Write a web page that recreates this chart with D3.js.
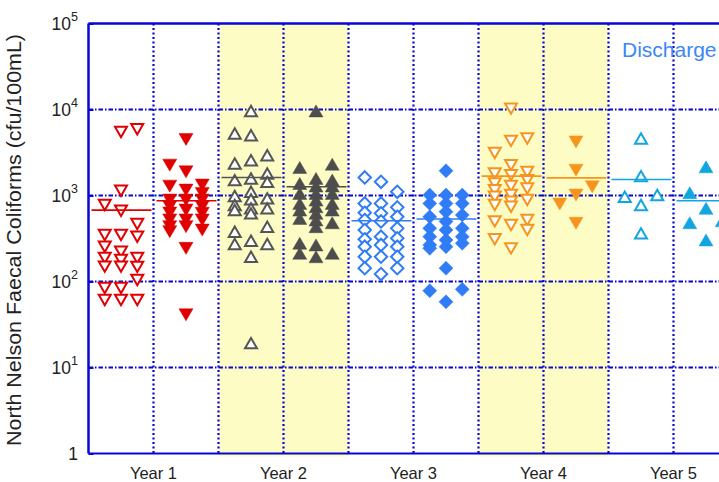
<!DOCTYPE html>
<html>
<head>
<meta charset="utf-8">
<script src="https://cdn.jsdelivr.net/npm/d3@7"></script>
<style>
  body { margin: 0; background: #fff; }
  text { font-family: "Liberation Sans", Arial, sans-serif; }
</style>
</head>
<body>
<script>
// year categories, each split into open (left) and filled (right) sub-columns
const years = ["Year 1", "Year 2", "Year 3", "Year 4", "Year 5"];
const shadedYears = ["Year 2", "Year 4"];
const yTicks = [1, 10, 100, 1000, 10000, 100000];

// [jitter column 0..2, cfu/100mL]
const y1Open = [[1,5480],[2,5890],[1,1135],[0,774],[1,664],[2,466],[0,347],[1,347],[2,332],[0,254],[1,222],[0,188],[1,178],[2,188],[0,149],[1,149],[2,148],[2,104],[0,84],[1,84],[0,61],[1,61],[2,61]];
const y1Filled = [[1,4475],[0,2254],[1,1884],[0,1285],[1,1155],[2,1321],[0,885],[0,740],[0,625],[0,519],[0,434],[0,379],[1,885],[1,677],[1,519],[1,434],[2,1057],[2,885],[2,740],[2,620],[2,519],[2,397],[1,243],[1,41]];
const y2Open = [[1,9620],[0,5250],[1,5020],[2,2942],[0,2356],[1,2574],[0,1510],[1,1578],[2,1803],[2,1442],[0,985],[0,774],[0,677],[1,1104],[1,902],[1,709],[1,619],[2,925],[2,709],[2,434],[0,379],[0,273],[1,298],[2,273],[1,194],[1,19.2]];
const y2Filled = [[1,9620],[0,2118],[2,2312],[0,1381],[0,1057],[0,809],[0,677],[1,1578],[1,1290],[1,1057],[1,885],[1,740],[1,620],[1,519],[1,434],[2,1510],[2,1290],[2,1057],[2,809],[2,677],[0,542],[2,482],[0,278],[0,213],[1,266],[1,194],[2,213]];
const y3Open = [[0,1622],[1,1442],[2,1104],[0,809],[0,630],[0,519],[0,397],[0,310],[0,254],[0,194],[0,143],[1,809],[1,620],[1,500],[1,332],[1,266],[1,194],[1,122],[2,728],[2,566],[2,415],[2,318],[2,254],[2,194],[2,143]];
const y3Filled = [[1,1936],[0,1012],[0,809],[0,566],[0,415],[0,332],[0,266],[0,243],[1,1012],[1,809],[1,648],[1,500],[1,397],[1,304],[1,254],[2,1012],[2,809],[2,593],[2,415],[2,332],[2,278],[1,143],[0,78],[2,81],[1,58]];
const y4Open = [[1,10240],[1,4315],[2,4593],[0,3126],[1,2254],[0,1803],[0,1381],[0,1155],[0,966],[0,774],[1,1727],[1,1290],[1,1012],[1,845],[1,740],[2,1884],[2,1510],[2,1208],[2,885],[0,500],[1,454],[2,519],[2,397],[0,310],[1,243]];
const y4Filled = [[1,4200],[1,1972],[2,1262],[1,1012],[0,794],[1,475]];
const y5Open = [[1,4593],[1,1679],[0,966],[2,1012],[1,774],[1,363]];
const y5Filled = [[1,2153],[0,1076],[1,709],[0,482],[2,510],[1,304]];

// median line of each sub-column
const medians = [676, 869, 1622, 1262, 509, 533, 1679, 1603, 1537, 869];

const groups = [
  {year: "Year 1", kind: "open", shape: "down", color: "#e00000", pts: y1Open},
  {year: "Year 1", kind: "filled", shape: "down", color: "#e00000", pts: y1Filled},
  {year: "Year 2", kind: "open", shape: "up", color: "#555555", pts: y2Open},
  {year: "Year 2", kind: "filled", shape: "up", color: "#4d4d4d", pts: y2Filled},
  {year: "Year 3", kind: "open", shape: "diamond", color: "#2f7cf6", pts: y3Open},
  {year: "Year 3", kind: "filled", shape: "diamond", color: "#2f7cf6", pts: y3Filled},
  {year: "Year 4", kind: "open", shape: "down", color: "#f7941d", pts: y4Open},
  {year: "Year 4", kind: "filled", shape: "down", color: "#f7941d", pts: y4Filled},
  {year: "Year 5", kind: "open", shape: "up", color: "#12a5e0", pts: y5Open},
  {year: "Year 5", kind: "filled", shape: "up", color: "#12a5e0", pts: y5Filled}
];
groups.forEach((g, i) => { g.key = g.year + "-" + g.kind; g.median = medians[i]; });

const width = 719, height = 482;
const margin = {top: 23.5, left: 88.5, bottom: 453.5};
const gridBlue = "#0606d6";

const svg = d3.select("body").append("svg")
  .attr("width", width)
  .attr("height", height);

// one band per sub-column, 65px each
const xScale = d3.scaleBand()
  .domain(groups.map(g => g.key))
  .range([margin.left, margin.left + 65 * groups.length])
  .padding(0);
const bw = xScale.bandwidth();

const yScale = d3.scaleLog()
  .domain([1, 1e5])
  .range([margin.bottom, margin.top]);

// shaded years
shadedYears.forEach(function(yr) {
  svg.append("rect")
    .attr("x", xScale(yr + "-open"))
    .attr("y", margin.top)
    .attr("width", bw * 2)
    .attr("height", margin.bottom - margin.top + 3)
    .attr("fill", "#fdfcc4");
});

// horizontal grid
svg.append("g")
  .selectAll("line")
  .data(yTicks.filter(t => t > 1 && t < 1e5))
  .join("line")
  .attr("x1", margin.left).attr("x2", width)
  .attr("y1", d => yScale(d)).attr("y2", d => yScale(d))
  .attr("stroke", gridBlue)
  .attr("stroke-width", 1.8)
  .attr("stroke-dasharray", "4.5,2,1.5,2");

// vertical grid
svg.append("g")
  .selectAll("line")
  .data(groups.slice(1))
  .join("line")
  .attr("x1", d => xScale(d.key)).attr("x2", d => xScale(d.key))
  .attr("y1", margin.top).attr("y2", margin.bottom)
  .attr("stroke", gridBlue)
  .attr("stroke-width", 2.2)
  .attr("stroke-dasharray", "2,2.5");

// marker shapes
function markerPath(shape, filled) {
  const w = filled ? 7 : 6, h = filled ? 6 : 5.2;
  if (shape === "down") return `M${-w},${-h}L${w},${-h}L0,${h}Z`;
  if (shape === "up") return `M${-w},${h}L${w},${h}L0,${-h}Z`;
  const d = filled ? 7 : 6.2;
  return `M0,${-d}L${d},0L0,${d}L${-d},0Z`;
}

groups.forEach(function(g) {
  const filled = g.kind === "filled";
  svg.append("g")
    .selectAll("path")
    .data(g.pts)
    .join("path")
    .attr("d", markerPath(g.shape, filled))
    .attr("transform", d => `translate(${xScale(g.key) + bw * (d[0] + 1) / 4},${yScale(d[1])})`)
    .attr("fill", filled ? g.color : "#fff")
    .attr("stroke", g.color)
    .attr("stroke-width", filled ? 0.5 : 2)
    .attr("stroke-linejoin", "miter");
});

// median lines
svg.append("g")
  .selectAll("line")
  .data(groups)
  .join("line")
  .attr("x1", d => xScale(d.key) + 3)
  .attr("x2", d => xScale(d.key) + bw - 2)
  .attr("y1", d => yScale(d.median)).attr("y2", d => yScale(d.median))
  .attr("stroke", d => d.color)
  .attr("stroke-width", 1.6);

// frame: left axis, bottom axis, top border
svg.append("line")
  .attr("x1", margin.left).attr("x2", margin.left)
  .attr("y1", margin.top).attr("y2", margin.bottom)
  .attr("stroke", gridBlue).attr("stroke-width", 2.5);
svg.append("line")
  .attr("x1", margin.left).attr("x2", width)
  .attr("y1", margin.bottom).attr("y2", margin.bottom)
  .attr("stroke", gridBlue).attr("stroke-width", 2);
svg.append("line")
  .attr("x1", margin.left).attr("x2", width)
  .attr("y1", margin.top).attr("y2", margin.top)
  .attr("stroke", gridBlue).attr("stroke-width", 2.5);

// y axis ticks and labels
const yAxis = svg.append("g")
  .attr("transform", `translate(${margin.left},0)`)
  .call(d3.axisRight(yScale).tickValues(yTicks).tickSize(5).tickFormat(""));
yAxis.select(".domain").remove();
yAxis.selectAll(".tick line").attr("stroke", gridBlue).attr("stroke-width", 2);

const yLabels = svg.append("g")
  .selectAll("text")
  .data(yTicks)
  .join("text")
  .attr("x", 78)
  .attr("y", d => yScale(d) + 6)
  .attr("text-anchor", "end")
  .attr("font-size", 17.5)
  .attr("fill", "#222");
yLabels.each(function(d) {
  const t = d3.select(this);
  const p = Math.round(Math.log10(d));
  if (p === 0) { t.text("1"); return; }
  t.append("tspan").text("10");
  t.append("tspan").attr("dy", -9).attr("font-size", 12.5).text(p);
});

// x labels
svg.append("g")
  .selectAll("text")
  .data(years)
  .join("text")
  .attr("x", d => xScale(d + "-filled"))
  .attr("y", 479)
  .attr("text-anchor", "middle")
  .attr("font-size", 16.5)
  .attr("fill", "#222")
  .text(d => d);

// y title
svg.append("text")
  .attr("transform", `translate(21,${(33 + 447) / 2}) rotate(-90)`)
  .attr("text-anchor", "middle")
  .attr("font-size", 19.5)
  .attr("textLength", 412)
  .attr("lengthAdjust", "spacingAndGlyphs")
  .attr("fill", "#222")
  .text("North Nelson Faecal Coliforms (cfu/100mL)");

svg.append("text")
  .attr("x", 622)
  .attr("y", 57)
  .attr("font-size", 21)
  .attr("fill", "#3b88f5")
  .text("Discharge");
</script>
</body>
</html>
